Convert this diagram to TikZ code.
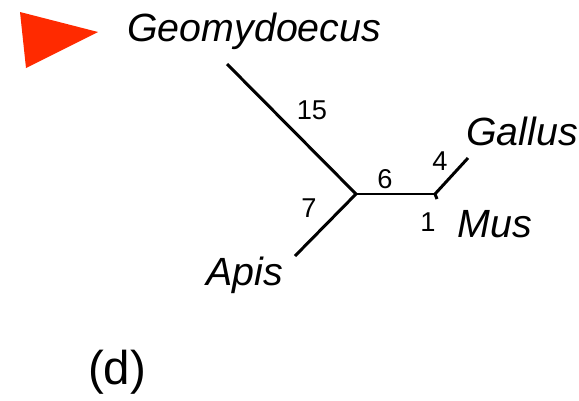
\documentclass[tikz,border=0pt]{standalone}
\usepackage{fontspec}
\setmainfont{Liberation Sans}
\usepackage{xcolor}
\usetikzlibrary{positioning}
\definecolor{pointer}{RGB}{255,42,0}

\begin{document}
\begin{tikzpicture}[
 x=0.02cm,y=-0.02cm,
 taxon/.style={font=\fontsize{22.4}{26}\selectfont\itshape,inner sep=0pt,anchor=base west},
 blen/.style={font=\fontsize{15.5}{18}\selectfont,inner sep=0pt},
 br/.style={line width=1.7pt}]
\useasboundingbox (0,0) rectangle (579,400);
% pointer
\fill[pointer] (20,12) -- (98,32) -- (26,68) -- cycle;
% tree vertices
\coordinate (root) at (356,194);
\coordinate (inner) at (435,194);
\coordinate (geo) at (227,64);
\coordinate (gal) at (468,158);
\coordinate (mus) at (437,199);
\coordinate (api) at (295,256);
% taxa
\node[taxon] (geoname) at (127,41) {Geomydoecus};
\node[taxon] (galname) at (466,145) {Gallus};
\node[taxon] (musname) at (457,237) {Mus};
\node[taxon] (apiname) at (206,285) {Apis};
% branch lengths
\node[blen] (l15) at (312,110) {15};
\node[blen] (l6) at (385,179) {6};
\node[blen] (l4) at (440,161) {4};
\node[blen] (l7) at (309,208) {7};
\node[blen] (l1) at (428,222) {1};
% branches
\draw[br] (geo)--(root);
\draw[br] (api)--(root);
\draw[br] (root)--(inner);
\draw[br] (inner)--(gal);
\draw[br] (inner)--(mus);
\node[font=\fontsize{27}{32}\selectfont,inner sep=0pt] (panel) at (117,372) {(d)};
\end{tikzpicture}
\end{document}
